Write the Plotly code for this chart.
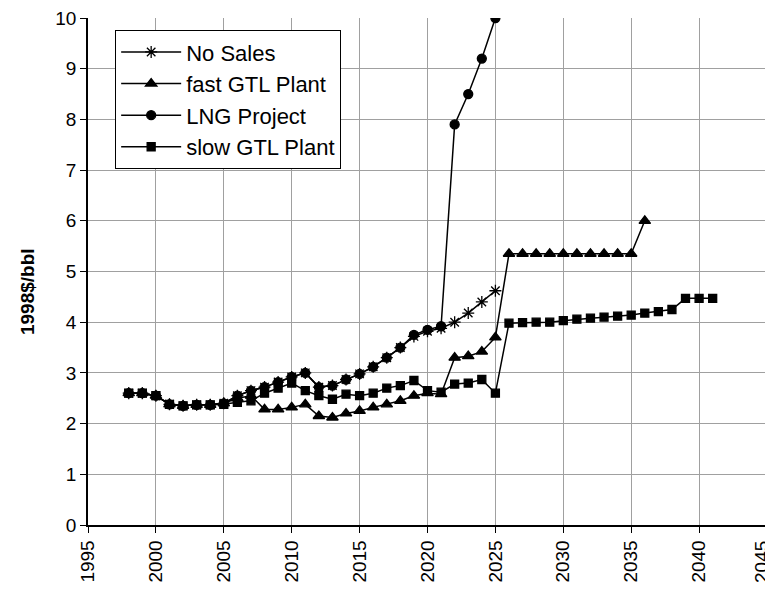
import plotly.graph_objects as go

years_main = list(range(1998, 2026))
no_sales = [2.6, 2.6, 2.55, 2.38, 2.35, 2.37, 2.37, 2.4, 2.55, 2.65, 2.72, 2.82, 2.92, 3.0,
            2.72, 2.75, 2.87, 2.98, 3.12, 3.3, 3.5, 3.72, 3.82, 3.88, 4.0, 4.18, 4.4, 4.62]

years_fast = list(range(1998, 2037))
fast_gtl = [2.6, 2.6, 2.55, 2.38, 2.35, 2.37, 2.37, 2.4, 2.5, 2.55, 2.28, 2.28, 2.32, 2.38,
            2.15, 2.12, 2.2, 2.25, 2.32, 2.38, 2.45, 2.55, 2.6, 2.58, 3.3, 3.33, 3.42, 3.7,
            5.35, 5.35, 5.35, 5.35, 5.35, 5.35, 5.35, 5.35, 5.35, 5.35, 6.0]

years_lng = list(range(1998, 2026))
lng = [2.6, 2.6, 2.55, 2.38, 2.35, 2.37, 2.37, 2.4, 2.55, 2.65, 2.72, 2.82, 2.92, 3.0,
       2.72, 2.75, 2.87, 2.98, 3.12, 3.3, 3.5, 3.75, 3.85, 3.92, 7.9, 8.5, 9.2, 10.0]

years_slow = list(range(1998, 2042))
slow_gtl = [2.6, 2.6, 2.55, 2.38, 2.35, 2.37, 2.37, 2.38, 2.42, 2.45, 2.6, 2.7, 2.8, 2.65,
            2.55, 2.48, 2.58, 2.55, 2.6, 2.7, 2.75, 2.85, 2.65, 2.62, 2.78, 2.8, 2.87, 2.6,
            3.98, 3.99, 4.0, 4.0, 4.03, 4.06, 4.08, 4.1, 4.12, 4.14, 4.18, 4.21, 4.25, 4.47,
            4.47, 4.47]

x_ticks = list(range(1995, 2050, 5))
y_ticks = list(range(0, 11))

FONT = "Liberation Sans, Arial, sans-serif"

fig = go.Figure()
series = [
    ("No Sales", years_main, no_sales, "asterisk-open", 10),
    ("fast GTL Plant", years_fast, fast_gtl, "triangle-up", 10),
    ("LNG Project", years_lng, lng, "circle", 9),
    ("slow GTL Plant", years_slow, slow_gtl, "square", 8),
]
for name, xs, ys, sym, sz in series:
    fig.add_trace(go.Scatter(
        x=xs, y=ys, name=name, mode="lines+markers",
        line=dict(color="black", width=1.5),
        marker=dict(symbol=sym, size=sz, color="black",
                    line=dict(color="black", width=1.3)),
    ))

# the last tick label sits at the window edge; draw it as an annotation nudged inward
last_tick = x_ticks[-1]
shown_ticks = x_ticks[:-1]

# page body adds an 8px offset; compensate so the plot lands where the reference has it
fig.update_layout(
    width=765, height=584,
    margin=dict(l=80, r=6, t=10, b=67),
    paper_bgcolor="white", plot_bgcolor="white",
    font=dict(family=FONT, size=19, color="black"),
    showlegend=True,
    legend=dict(
        x=0.04, y=0.976, xanchor="left", yanchor="top",
        bgcolor="white", bordercolor="black", borderwidth=1,
        font=dict(size=22, family=FONT), tracegroupgap=0,
        itemwidth=60,
    ),
    annotations=[
        dict(
            text="<b>1998$/bbl</b>", xref="paper", yref="paper",
            x=-0.088, y=0.46, xanchor="center", yanchor="middle",
            textangle=-90, showarrow=False, font=dict(size=19, family=FONT),
        ),
        dict(
            text=str(last_tick), xref="x", yref="paper",
            x=last_tick, y=0, xanchor="center", yanchor="top",
            xshift=-6, yshift=-14,
            textangle=-90, showarrow=False, font=dict(size=19, family=FONT),
        ),
    ],
)
fig.update_xaxes(
    range=[1995, 2045], tickvals=x_ticks, ticktext=[str(v) for v in shown_ticks] + [""],
    tickangle=-90, showgrid=True, gridcolor="#a0a0a0", gridwidth=1,
    showline=True, linecolor="black", linewidth=1.5,
    ticks="outside", ticklen=6, tickcolor="black",
    tickfont=dict(size=19, family=FONT), zeroline=False,
    automargin=False, ticklabeloverflow="allow",
)
fig.update_yaxes(
    range=[0, 10], tickvals=y_ticks, showgrid=True, gridcolor="#a0a0a0", gridwidth=1,
    showline=True, linecolor="black", linewidth=1.5,
    ticks="outside", ticklen=6, tickcolor="black",
    tickfont=dict(size=19, family=FONT), zeroline=False,
    automargin=False, ticklabeloverflow="allow",
)

fig.write_html("out.html")
